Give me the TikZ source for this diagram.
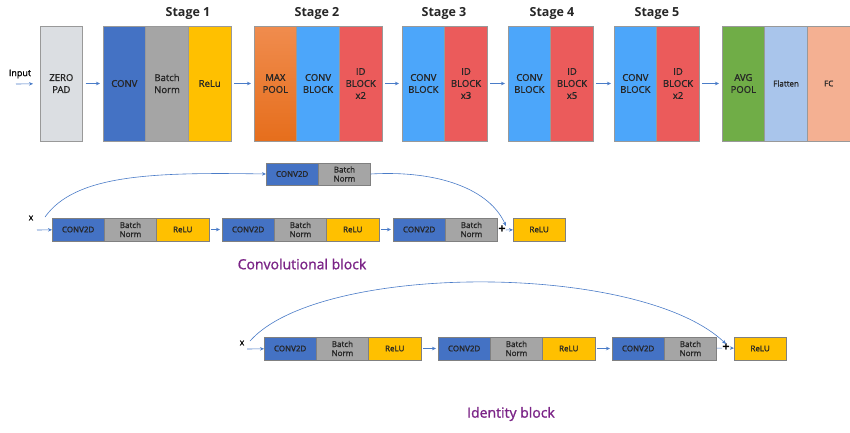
\documentclass[tikz,border=0pt]{standalone}
\usepackage{fontspec}
\setmainfont{Open Sans}
\newfontfamily\semifont{Open Sans}[FakeBold=1.2]
\usetikzlibrary{positioning,arrows.meta}

\definecolor{convblue}{HTML}{4472C4}
\definecolor{bngray}{HTML}{A5A5A5}
\definecolor{reluyellow}{HTML}{FFC000}
\definecolor{padgray}{HTML}{DBDEE2}
\definecolor{pooltop}{HTML}{F08C4E}
\definecolor{poolbot}{HTML}{E66E1C}
\definecolor{cbblue}{HTML}{4CA6FA}
\definecolor{idred}{HTML}{EB5B5B}
\definecolor{avggreen}{HTML}{70AD47}
\definecolor{flatblue}{HTML}{A9C5EB}
\definecolor{fcsalmon}{HTML}{F4B092}
\definecolor{arrowblue}{HTML}{4A7CC8}
\definecolor{lblpurple}{HTML}{7B2487}

\tikzset{
  stage/.style={draw=black!40, line width=0.5pt, minimum width=42.7pt, minimum height=115pt, inner sep=0pt, outer sep=0pt, align=center, text=black!85, font=\semifont\fontsize{9.5}{12}\selectfont},
  layer/.style={draw=black!50, line width=0.5pt, minimum width=52.3pt, minimum height=23pt, inner sep=0pt, outer sep=0pt, align=center, text=black!85, font=\semifont\fontsize{8}{9}\selectfont},
  title/.style={font=\fontsize{12.5}{14}\selectfont\bfseries, text=black!85},
  blocklabel/.style={font=\semifont\fontsize{14}{16}\selectfont, text=lblpurple},
  flow/.style={-{Stealth[length=4pt,width=3.5pt]}, arrowblue, line width=0.6pt},
  plussign/.style={inner sep=0pt, font=\fontsize{13}{13}\selectfont\bfseries}
}

\begin{document}
\begin{tikzpicture}[x=1pt,y=-1pt]
\useasboundingbox[fill=white] (0,0) rectangle (850,432);

% main network
\node[font=\semifont\fontsize{9}{10}\selectfont] (input) at (20,74) {Input};
\coordinate (in0) at (16,84);
\node[stage, fill=padgray, anchor=north west] (pad) at (40,26) {ZERO\\PAD};

\node[stage, fill=convblue, anchor=north west] (conv1) at (103,26) {CONV};
\node[stage, fill=bngray, right=0pt of conv1] (bn1) {Batch\\Norm};
\node[stage, fill=reluyellow, right=0pt of bn1] (relu1) {ReLu};

\node[stage, top color=pooltop, bottom color=poolbot, anchor=north west] (pool) at (254,26) {MAX\\POOL};
\node[stage, fill=cbblue, right=0pt of pool] (cb2) {CONV\\BLOCK};
\node[stage, fill=idred, right=0pt of cb2] (id2) {ID\\BLOCK\\x2};

\node[stage, fill=cbblue, anchor=north west] (cb3) at (402,26) {CONV\\BLOCK};
\node[stage, fill=idred, right=0pt of cb3] (id3) {ID\\BLOCK\\x3};

\node[stage, fill=cbblue, anchor=north west] (cb4) at (508,26) {CONV\\BLOCK};
\node[stage, fill=idred, right=0pt of cb4] (id4) {ID\\BLOCK\\x5};

\node[stage, fill=cbblue, anchor=north west] (cb5) at (614,26) {CONV\\BLOCK};
\node[stage, fill=idred, right=0pt of cb5] (id5) {ID\\BLOCK\\x2};

\node[stage, fill=avggreen, anchor=north west] (avg) at (722,26) {AVG\\POOL};
\node[stage, fill=flatblue, right=0pt of avg, font=\semifont\fontsize{8}{9}\selectfont] (flat) {Flatten};
\node[stage, fill=fcsalmon, right=0pt of flat, font=\semifont\fontsize{8}{9}\selectfont] (fc) {FC};

\node[title] (s1) at (188,13) {Stage 1};
\node[title] (s2) at (317,13) {Stage 2};
\node[title] (s3) at (444,13) {Stage 3};
\node[title] (s4) at (552,13) {Stage 4};
\node[title] (s5) at (657,13) {Stage 5};

\draw[flow, shorten >=7pt] (in0) -- (pad);
\draw[flow, shorten <=3pt, shorten >=3pt] (pad) -- (conv1);
\draw[flow, shorten <=3pt, shorten >=3pt] (relu1) -- (pool);
\draw[flow, shorten <=3pt, shorten >=3pt] (id2) -- (cb3);
\draw[flow, shorten <=3pt, shorten >=3pt] (id3) -- (cb4);
\draw[flow, shorten <=3pt, shorten >=3pt] (id4) -- (cb5);
\draw[flow, shorten <=3pt, shorten >=3pt] (id5) -- (avg);

% convolutional block
\node[font=\semifont\fontsize{8.5}{9}\selectfont] (xa) at (31,218) {x};
\coordinate (xain) at (37,230);
\coordinate (skipa) at (45,217);

\node[layer, fill=convblue, anchor=north west, minimum height=22pt] (sc) at (266,163) {CONV2D};
\node[layer, fill=bngray, right=0pt of sc, minimum height=22pt] (sbn) {Batch\\Norm};

\node[layer, fill=convblue, anchor=north west] (ca1) at (52,218) {CONV2D};
\node[layer, fill=bngray, right=0pt of ca1] (ba1) {Batch\\Norm};
\node[layer, fill=reluyellow, right=0pt of ba1] (ra1) {ReLU};
\node[layer, fill=convblue, anchor=north west] (ca2) at (222,218) {CONV2D};
\node[layer, fill=bngray, right=0pt of ca2] (ba2) {Batch\\Norm};
\node[layer, fill=reluyellow, right=0pt of ba2] (ra2) {ReLU};
\node[layer, fill=convblue, anchor=north west] (ca3) at (393,218) {CONV2D};
\node[layer, fill=bngray, right=0pt of ca3] (ba3) {Batch\\Norm};
\node[plussign] (pa) at (502,230) {+};
\node[layer, fill=reluyellow, anchor=north west] (ra4) at (513,218) {ReLU};

\draw[flow] (xain) -- (ca1);
\draw[flow, shorten <=2pt, shorten >=2pt] (ra1) -- (ca2);
\draw[flow, shorten <=2pt, shorten >=2pt] (ra2) -- (ca3);
\draw[arrowblue, line width=0.6pt] (ba3) -- (pa);
\draw[flow] (pa) -- (ra4);
\draw[flow] (skipa) .. controls (75,175) and (150,172) .. (sc.west);
\draw[flow] (sbn.east) .. controls (440,170) and (490,190) .. (pa.north east);

\node[blocklabel] (convlbl) at (302,264) {Convolutional block};

% identity block
\node[font=\semifont\fontsize{8.5}{9}\selectfont] (xb) at (242,343) {x};
\coordinate (xbin) at (247,349);
\coordinate (skipb) at (250,341);

\node[layer, fill=convblue, anchor=north west] (cb1) at (264,337) {CONV2D};
\node[layer, fill=bngray, right=0pt of cb1] (bb1) {Batch\\Norm};
\node[layer, fill=reluyellow, right=0pt of bb1] (rb1) {ReLU};
\node[layer, fill=convblue, anchor=north west] (cb2b) at (438,337) {CONV2D};
\node[layer, fill=bngray, right=0pt of cb2b] (bb2) {Batch\\Norm};
\node[layer, fill=reluyellow, right=0pt of bb2] (rb2) {ReLU};
\node[layer, fill=convblue, anchor=north west] (cb3b) at (612,337) {CONV2D};
\node[layer, fill=bngray, right=0pt of cb3b] (bb3) {Batch\\Norm};
\node[plussign] (pb) at (726,348) {+};
\node[layer, fill=reluyellow, anchor=north west] (rb4) at (734,337) {ReLU};

\draw[flow] (xbin) -- (cb1);
\draw[flow, shorten <=2pt, shorten >=2pt] (rb1) -- (cb2b);
\draw[flow, shorten <=2pt, shorten >=2pt] (rb2) -- (cb3b);
\draw[arrowblue, line width=0.6pt] (bb3) -- (pb);
\draw[flow] (pb) -- (rb4);
\draw[flow] (skipb) .. controls (320,262) and (640,262) .. (pb.north);

\node[blocklabel] (idlbl) at (511,414) {Identity block};
\end{tikzpicture}
\end{document}
